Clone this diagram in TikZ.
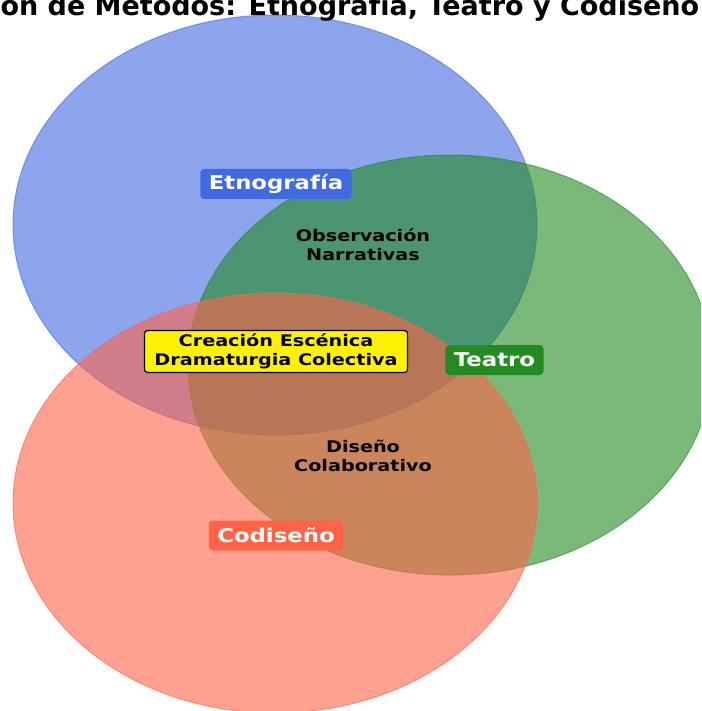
\documentclass[tikz,border=0pt]{standalone}
\usepackage{fontspec}
\setmainfont{DejaVu Sans}[FakeStretch=1.2]
\newfontfamily\titlefont{DejaVu Sans}
\definecolor{etnoblue}{HTML}{4169E1}
\definecolor{teatrogreen}{HTML}{228B22}
\definecolor{codisred}{HTML}{FF6347}
\tikzset{venn/.style={fill opacity=0.6,draw opacity=0.6,line width=1pt},
setlbl/.style={rounded corners=4pt,text=white,font=\bfseries\fontsize{19}{22}\selectfont,minimum height=30pt,inner xsep=8.5pt},
zonelbl/.style={align=center,font=\bfseries\fontsize{16}{18.6}\selectfont}}
\begin{document}
\begin{tikzpicture}[x=1pt,y=-1pt]
\useasboundingbox(0,0)rectangle(701,711);
\clip(0,0)rectangle(701,711);
\draw[venn,fill=etnoblue,draw=etnoblue](275,225)ellipse[x radius=262pt,y radius=210pt];
\draw[venn,fill=teatrogreen,draw=teatrogreen](450,365)ellipse[x radius=262pt,y radius=210pt];
\draw[venn,fill=codisred,draw=codisred](275,503)ellipse[x radius=262pt,y radius=210pt];
\node[anchor=base west,font=\titlefont\bfseries\fontsize{27}{32}\selectfont](titulo)at(-3,16){ón de Métodos: Etnografía, Teatro y Codiseño};
\node[setlbl,fill=etnoblue](etno)at(276,184){Etnografía};
\node[setlbl,fill=teatrogreen](teatro)at(494.5,360){Teatro};
\node[setlbl,fill=codisred](codis)at(276,535.5){Codiseño};
\node[zonelbl](etnoteatro)at(363,245){Observación\\Narrativas};
\node[zonelbl](teatrocodis)at(363,456){Diseño\\Colaborativo};
\node[zonelbl,fill=yellow,draw=black,line width=1.2pt,rounded corners=3pt,inner xsep=10pt,inner ysep=3.5pt](centro)at(276,351.5){Creación Escénica\\Dramaturgia Colectiva};
\end{tikzpicture}
\end{document}
